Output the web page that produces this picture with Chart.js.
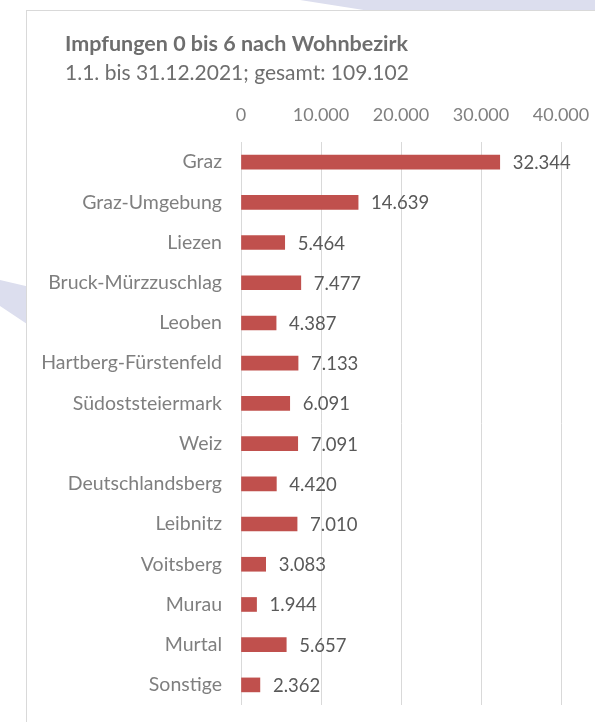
<!DOCTYPE html>
<html>
<head>
<meta charset="utf-8">
<script src="https://cdn.jsdelivr.net/npm/chart.js@4.4.0/dist/chart.umd.min.js"></script>
<style>
  html, body { margin: 0; padding: 0; background: #ffffff; }
  #page { position: relative; width: 595px; height: 722px; overflow: hidden; }
  .deco { position: absolute; background: #dcdeee; }
  #decoTop { left: 0; top: 0; width: 595px; height: 14px;
    clip-path: polygon(300px 0, 595px 0, 595px 14px, 370px 11px); }
  #decoLeft { left: 0; top: 270px; width: 30px; height: 60px;
    clip-path: polygon(0 10px, 30px 17px, 30px 56px, 0 36px); }
  #box { position: absolute; left: 26px; top: 10px; width: 620px; height: 730px;
    border: 1px solid #d9d9d9; background: #ffffff; }
  #chart { position: absolute; left: 0; top: 0; }
</style>
</head>
<body>
<div id="page">
  <div class="deco" id="decoTop"></div>
  <div class="deco" id="decoLeft"></div>
  <div id="box"></div>
  <canvas id="chart" width="595" height="722"></canvas>
</div>
<script>
var bezirke = ['Graz', 'Graz-Umgebung', 'Liezen', 'Bruck-Mürzzuschlag', 'Leoben',
  'Hartberg-Fürstenfeld', 'Südoststeiermark', 'Weiz', 'Deutschlandsberg', 'Leibnitz',
  'Voitsberg', 'Murau', 'Murtal', 'Sonstige'];
var impfungen = [32344, 14639, 5464, 7477, 4387, 7133, 6091, 7091, 4420, 7010, 3083, 1944, 5657, 2362];
var xTicks = [0, 10000, 20000, 30000, 40000];
var titel = 'Impfungen 0 bis 6 nach Wohnbezirk';
var untertitel = '1.1. bis 31.12.2021; gesamt: 109.102';

var schrift = 'Lato, "Noto Sans", sans-serif';

// Titel + Untertitel links oben
var titelPlugin = {
  id: 'titelPlugin',
  beforeDraw: function(chart) {
    var ctx = chart.ctx;
    ctx.save();
    ctx.fillStyle = '#6e6e6e';
    ctx.textAlign = 'left';
    ctx.textBaseline = 'middle';
    ctx.font = 'bold 21.5px ' + schrift;
    ctx.fillText(titel, 65, 44);
    ctx.font = '21px ' + schrift;
    ctx.fillText(untertitel, 65, 73);
    ctx.restore();
  }
};

// Werte rechts neben den Balken
var werteLabels = {
  id: 'werteLabels',
  afterDatasetsDraw: function(chart) {
    var ctx = chart.ctx;
    var meta = chart.getDatasetMeta(0);
    ctx.save();
    ctx.font = '18.5px ' + schrift;
    ctx.fillStyle = '#595959';
    ctx.textAlign = 'left';
    ctx.textBaseline = 'middle';
    meta.data.forEach(function(bar, i) {
      ctx.fillText(impfungen[i].toLocaleString('de-DE'), bar.x + 13, bar.y + 1);
    });
    ctx.restore();
  }
};

var canvas = document.querySelector('#chart');
new Chart(canvas, {
  type: 'bar',
  data: {
    labels: bezirke,
    datasets: [{
      data: impfungen,
      backgroundColor: '#c0504d',
      borderWidth: 0,
      barThickness: 14
    }]
  },
  options: {
    indexAxis: 'y',
    responsive: false,
    animation: false,
    locale: 'de-DE',
    layout: { padding: { left: 0, right: 34, top: 104, bottom: 17 } },
    plugins: {
      legend: { display: false },
      tooltip: { enabled: false }
    },
    scales: {
      x: {
        position: 'top',
        min: xTicks[0],
        max: xTicks[xTicks.length - 1],
        afterBuildTicks: function(scale) {
          scale.ticks = xTicks.map(function(v) { return { value: v }; });
        },
        afterFit: function(scale) {
          scale.height = 38;
          scale.paddingLeft = 0;
          scale.paddingRight = 0;
        },
        grid: { color: '#d9d9d9', lineWidth: 1, drawTicks: false },
        border: { display: false },
        ticks: {
          color: '#7f7f7f',
          padding: 16,
          maxRotation: 0,
          font: { family: schrift, size: 18, lineHeight: 1.2 }
        }
      },
      y: {
        afterFit: function(scale) {
          scale.width = 241;
          scale.paddingTop = 0;
          scale.paddingBottom = 0;
        },
        grid: { display: false },
        border: { display: false },
        ticks: {
          color: '#7f7f7f',
          padding: 11,
          font: { family: schrift, size: 19.5, lineHeight: 1.2 }
        }
      }
    }
  },
  plugins: [titelPlugin, werteLabels]
});
</script>
</body>
</html>
